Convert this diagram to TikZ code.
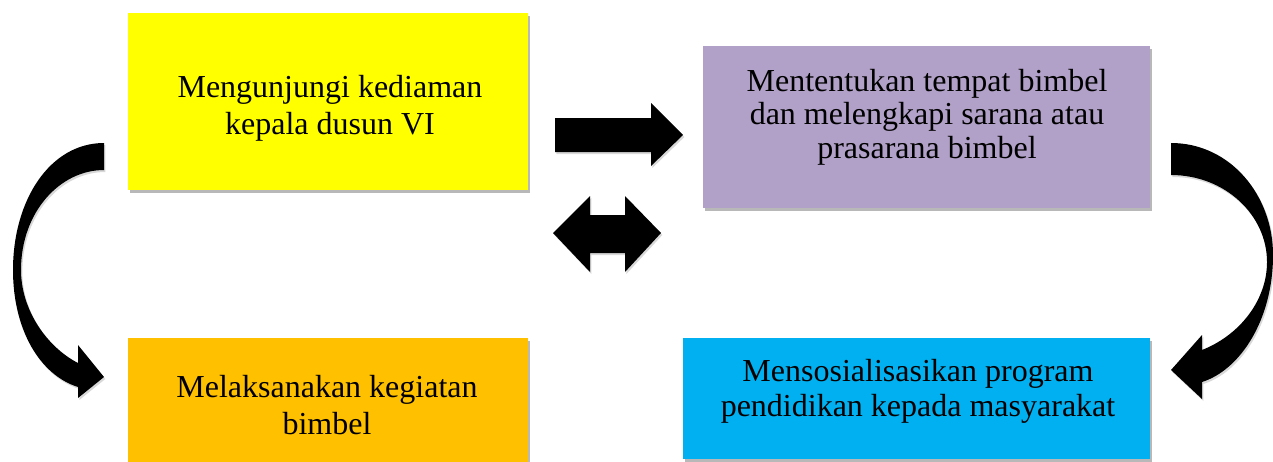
\documentclass[tikz,border=0pt]{standalone}
\usepackage{fontspec}
\setmainfont{Liberation Serif}
\usetikzlibrary{shadows}
\definecolor{kuning}{HTML}{FFFF00}
\definecolor{ungu}{HTML}{B1A0C7}
\definecolor{jingga}{HTML}{FFC000}
\definecolor{biru}{HTML}{00B0F0}
\begin{document}
\begin{tikzpicture}[
    x=0.75pt, y=-0.75pt,
    kotak/.style={draw=none, inner sep=0pt,
        drop shadow={shadow xshift=1.2pt, shadow yshift=-2.4pt, fill=black!35, opacity=0.8}},
    teks/.style={align=center, inner sep=0pt, font=\fontsize{24}{27.75}\selectfont},
    panah/.style={fill=black, draw=none,
        drop shadow={shadow xshift=1pt, shadow yshift=-1.5pt, fill=black!30, opacity=0.5}}
    ]
    \useasboundingbox (0,0) rectangle (1273,461);

    \node[kotak, fill=kuning, minimum width=300pt, minimum height=132.75pt] (A) at (328,101.5) {};
    \node[kotak, fill=ungu, minimum width=335.25pt, minimum height=121.5pt] (B) at (926.5,127) {};
    \node[kotak, fill=jingga, minimum width=300pt, minimum height=97.5pt] (D) at (328,403) {};
    \node[kotak, fill=biru, minimum width=350.25pt, minimum height=90.75pt] (C) at (916.5,398.5) {};

    \node[teks] (tA) at (330,108) {Mengunjungi kediaman\\kepala dusun VI};
    \node[teks, font=\fontsize{24}{25.1}\selectfont] (tB) at (927,117)
        {Mententukan tempat bimbel\\dan melengkapi sarana atau\\prasarana bimbel};
    \node[teks] (tD) at (327,405.5) {Melaksanakan kegiatan\\bimbel};
    \node[teks, font=\fontsize{24}{26.25}\selectfont] (tC) at (918,391)
        {Mensosialisasikan program\\pendidikan kepada masyarakat};

    % panah lurus A ke B
    \fill[panah] (555,118) -- (651,118) -- (651,103) -- (683,135) -- (651,166)
        -- (651,152) -- (555,152) -- cycle;
    % panah dua arah
    \fill[panah] (553,233) -- (590,196) -- (590,215) -- (625,215) -- (625,196)
        -- (661,233) -- (625,272) -- (625,253) -- (590,253) -- (590,272) -- cycle;
    % panah lengkung kiri A ke D
    \fill[panah] (104,143) .. controls (50,143) and (13,200) .. (13,270)
        .. controls (13,330) and (40,375) .. (78,387) -- (78,398) -- (104,377)
        -- (78,345) -- (78,363) .. controls (47,347) and (21,310) .. (21,270)
        .. controls (21,212) and (60,170) .. (104,170) -- cycle;
    % panah lengkung kanan B ke C
    \fill[panah] (1171,143) .. controls (1230,143) and (1273,195) .. (1273,255)
        .. controls (1273,320) and (1240,370) .. (1202,382) -- (1202,399)
        -- (1171,370) -- (1202,335) -- (1202,350)
        .. controls (1240,335) and (1267,300) .. (1267,262)
        .. controls (1267,215) and (1225,175) .. (1171,175) -- cycle;

\end{tikzpicture}
\end{document}
